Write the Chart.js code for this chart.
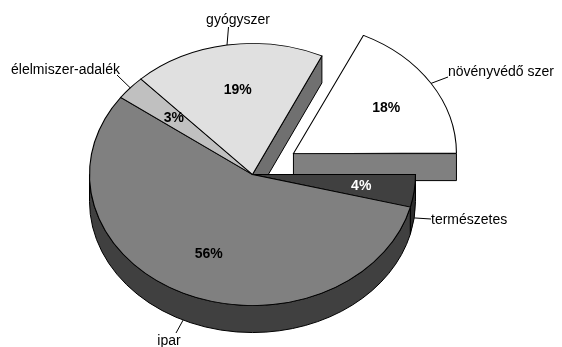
<!DOCTYPE html>
<html lang="hu">
<head>
    <meta charset="UTF-8">
    <title>Felhasználás</title>
    <script src="https://cdn.jsdelivr.net/npm/chart.js"></script>
    <style>
        html, body { margin: 0; padding: 0; background: #fff; }
        canvas { display: block; }
    </style>
</head>
<body>
    <canvas id="pie" width="562" height="347"></canvas>

<script>
    const categories = ['természetes', 'ipar', 'élelmiszer-adalék', 'gyógyszer', 'növényvédő szer'];
    const shares = [4, 56, 3, 19, 18];

    const topColors = ['#404040', '#808080', '#c0c0c0', '#e0e0e0', '#ffffff'];
    const rimColors = ['#2e2e2e', '#404040', null, null, null];
    const cutColors = [null, '#5a5a5a', null, '#707070', '#808080'];
    const percentColors = ['#fff', '#000', '#000', '#000', '#000'];
    const sliceOffsets = [0, 0, 0, 0, 194];

    // where each name sits, with the outer end of its leader
    const nameBoxes = [
        { x: 431, y: 220, align: 'left', lx: 431, ly: 219, drop: true },
        { x: 169, y: 341, align: 'center', lx: 176, ly: 333, drop: true },
        { x: 120, y: 70, align: 'right', lx: 117, ly: 75, drop: false },
        { x: 238, y: 20, align: 'center', lx: 228.5, ly: 27, drop: false },
        { x: 448, y: 72, align: 'left', lx: 448, ly: 77, drop: false }
    ];

    const squash = 0.804;
    const depth = 27;

    // radius the arc element adds to itself when it is offset
    function extraRadius(arc) {
        const off = (arc.options.offset || 0) / 4;
        return off * (1 - Math.sin(Math.min(Math.PI, arc.circumference || 0)));
    }

    function shiftOf(arc) {
        const mid = (arc.startAngle + arc.endAngle) / 2;
        const off = (arc.options.offset || 0) / 4;
        return { x: arc.x + Math.cos(mid) * off, y: arc.y + Math.sin(mid) * off * squash };
    }

    function rimPoint(arc, angle, k) {
        const c = shiftOf(arc);
        const r = arc.outerRadius + extraRadius(arc);
        return {
            x: c.x + Math.cos(angle) * r * k,
            y: c.y + Math.sin(angle) * r * squash * k
        };
    }

    function drawWalls(ctx, arcs) {
        ctx.strokeStyle = '#000';
        ctx.lineWidth = 1;
        ctx.lineJoin = 'miter';

        for (let i = arcs.length - 1; i >= 0; i--) {
            const arc = arcs[i];
            const c = shiftOf(arc);
            const rx = arc.outerRadius + extraRadius(arc);
            const ry = rx * squash;

            if (cutColors[i]) {
                const p = rimPoint(arc, arc.endAngle, 1);
                ctx.beginPath();
                ctx.moveTo(c.x, c.y);
                ctx.lineTo(p.x, p.y);
                ctx.lineTo(p.x, p.y + depth);
                ctx.lineTo(c.x, c.y + depth);
                ctx.closePath();
                ctx.fillStyle = cutColors[i];
                ctx.fill();
                ctx.stroke();
            }

            if (rimColors[i]) {
                const a0 = Math.max(arc.startAngle, 0);
                const a1 = Math.min(arc.endAngle, Math.PI);
                ctx.beginPath();
                ctx.ellipse(c.x, c.y, rx, ry, 0, a0, a1);
                ctx.ellipse(c.x, c.y + depth, rx, ry, 0, a1, a0, true);
                ctx.closePath();
                ctx.fillStyle = rimColors[i];
                ctx.fill();
                ctx.stroke();
            }
        }
    }

    function drawLabels(ctx, arcs) {
        ctx.textBaseline = 'middle';

        arcs.forEach((arc, i) => {
            const mid = (arc.startAngle + arc.endAngle) / 2;

            // leader from the rim to the name
            const box = nameBoxes[i];
            const end = rimPoint(arc, mid, 1);
            ctx.beginPath();
            ctx.moveTo(box.lx, box.ly);
            ctx.lineTo(end.x, end.y + (box.drop ? depth : 0));
            ctx.strokeStyle = '#000';
            ctx.lineWidth = 1;
            ctx.stroke();

            ctx.font = '14px "Liberation Sans"';
            ctx.fillStyle = '#000';
            ctx.textAlign = box.align;
            ctx.fillText(categories[i], box.x, box.y);

            const inside = rimPoint(arc, mid, 0.66);
            ctx.font = 'bold 14px "Liberation Sans"';
            ctx.fillStyle = percentColors[i];
            ctx.textAlign = 'center';
            ctx.fillText(shares[i] + '%', inside.x + 2, inside.y + 1);
        });
    }

    // tilts the flat pie into an ellipse and adds the side walls
    const tiltedPie = {
        id: 'tiltedPie',
        afterDatasetsUpdate(chart) {
            // an offset arc grows a little; keep it the size of the others
            chart.getDatasetMeta(0).data.forEach(arc => {
                arc.outerRadius -= extraRadius(arc);
            });
        },
        beforeDatasetsDraw(chart) {
            const ctx = chart.ctx;
            const arcs = chart.getDatasetMeta(0).data;
            drawWalls(ctx, arcs);
            ctx.save();
            ctx.translate(0, arcs[0].y);
            ctx.scale(1, squash);
            ctx.translate(0, -arcs[0].y);
        },
        afterDatasetsDraw(chart) {
            chart.ctx.restore();
            drawLabels(chart.ctx, chart.getDatasetMeta(0).data);
        }
    };

    new Chart(document.getElementById('pie'), {
        type: 'pie',
        data: {
            labels: categories,
            datasets: [{
                data: shares,
                backgroundColor: topColors,
                borderColor: '#000',
                borderWidth: 1.1,
                borderJoinStyle: 'miter',
                offset: sliceOffsets,
                clip: false
            }]
        },
        options: {
            responsive: false,
            animation: false,
            rotation: 90,
            radius: 163,
            layout: { padding: { right: 57, top: 2 } },
            events: [],
            plugins: {
                legend: { display: false },
                tooltip: { enabled: false }
            }
        },
        plugins: [tiltedPie]
    });
</script>
</body>
</html>
